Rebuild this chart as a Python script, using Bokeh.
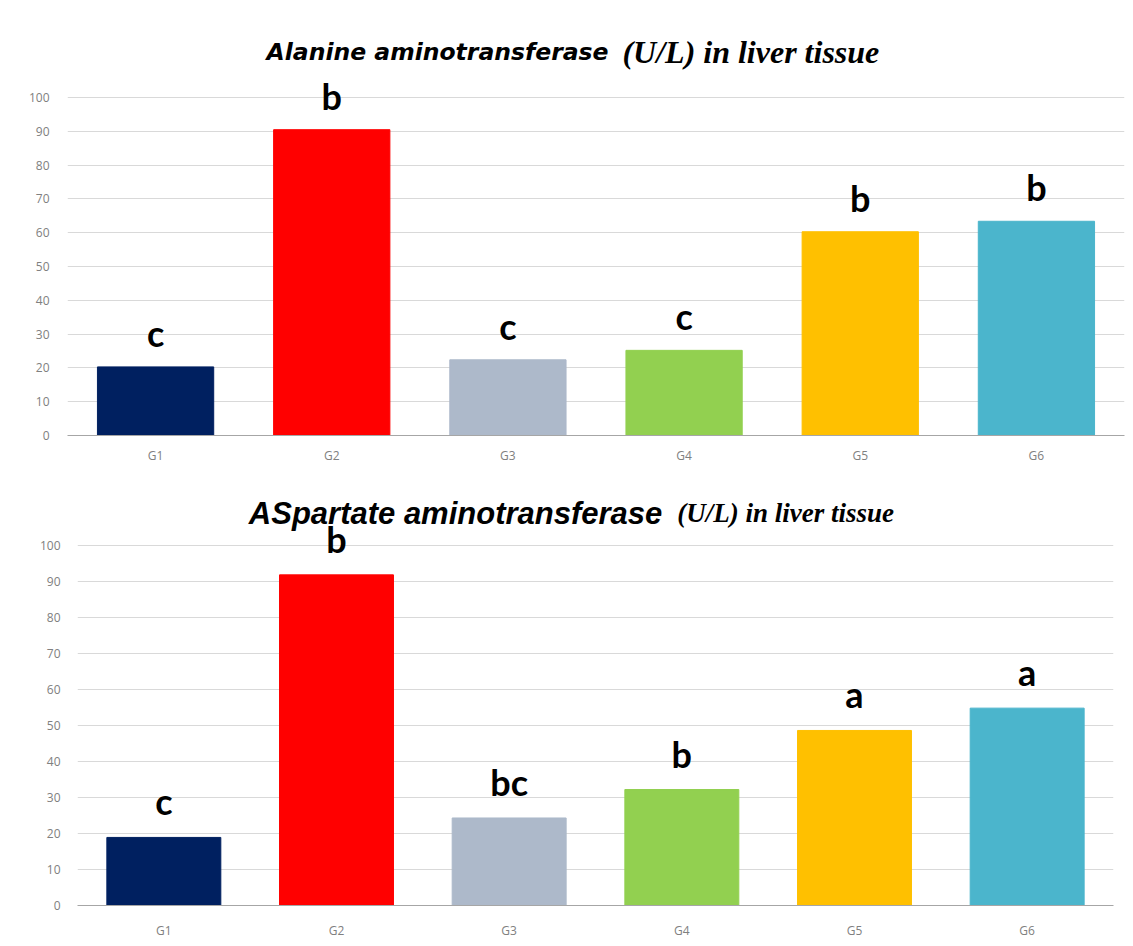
from bokeh.plotting import figure
from bokeh.models import ColumnDataSource, LabelSet, Label, FactorRange, Range1d, FixedTicker
from bokeh.core.properties import value
from bokeh.embed import file_html
from bokeh.resources import INLINE

groups = ["G1", "G2", "G3", "G4", "G5", "G6"]
colors = ["#002060", "#FF0000", "#ADB9CA", "#92D050", "#FFC000", "#4BB5CC"]

alt_values = [20.3, 90.5, 22.4, 25.2, 60.3, 63.4]
alt_letters = ["c", "b", "c", "c", "b", "b"]

ast_values = [18.9, 91.8, 24.3, 32.2, 48.6, 54.8]
ast_letters = ["c", "b", "bc", "b", "a", "a"]

y_ticks = [0, 10, 20, 30, 40, 50, 60, 70, 80, 90, 100]


def make_panel(values, letters, title_a, title_b, height, y_end, mb_left, mb_right, mb_top, mb_bottom,
               title_y, xa, xb, font_a, size_a, size_b, xlab_standoff, ylab_standoff, letter_offset):
    src = ColumnDataSource(dict(group=groups, value=values, letter=letters, color=colors))
    p = figure(x_range=FactorRange(factors=groups), y_range=Range1d(0, y_end),
               width=1133, height=height, output_backend="svg", toolbar_location=None,
               min_border_left=mb_left, min_border_right=mb_right,
               min_border_top=mb_top, min_border_bottom=mb_bottom)
    p.vbar(x="group", top="value", width=0.66, color="color", source=src)
    p.add_layout(LabelSet(x="group", y="value", text="letter", source=src, y_offset=letter_offset,
                          text_align="center", text_baseline="alphabetic",
                          text_font=value("Lato"), text_font_style="bold",
                          text_font_size="36px", text_color="#000000"))
    p.add_layout(Label(x=xa, y=title_y, text=title_a, text_align="right",
                       text_baseline="alphabetic", text_font=font_a,
                       text_font_style="bold italic", text_font_size=size_a, text_color="#000000"))
    p.add_layout(Label(x=xb, y=title_y, text=title_b, text_align="left",
                       text_baseline="alphabetic", text_font="Liberation Serif",
                       text_font_style="bold italic", text_font_size=size_b, text_color="#000000"))
    p.outline_line_color = None
    p.xgrid.grid_line_color = None
    p.ygrid.grid_line_color = "#d9d9d9"
    p.yaxis.ticker = FixedTicker(ticks=y_ticks)
    p.yaxis.axis_line_color = None
    for ax in (p.xaxis, p.yaxis):
        ax.major_tick_line_color = None
        ax.minor_tick_line_color = None
        ax.major_tick_out = 0
        ax.major_tick_in = 0
        ax.major_label_text_font = "Open Sans"
        ax.major_label_text_font_size = "12px"
        ax.major_label_text_color = "#808080"
    p.yaxis.major_label_standoff = ylab_standoff
    p.xaxis.major_label_standoff = xlab_standoff
    p.xaxis.axis_line_color = "#a6a6a6"
    p.xaxis.axis_line_width = 1
    return p


p1 = make_panel(alt_values, alt_letters, "Alanine aminotransferase", "(U/L) in liver tissue",
                470, 124, 67, 9, 16, 35, 113.6, 3.071, 3.150, "DejaVu Sans", "23.5px", "32px", 11, 18, 20)
p2 = make_panel(ast_values, ast_letters, "ASpartate aminotransferase", "(U/L) in liver tissue",
                476, 118, 77, 20, 10, 41, 108.9, 3.387, 3.474, "Liberation Sans", "31px", "27px", 16, 17, 22)

open("out.html", "w").write(file_html([p1, p2], INLINE))
